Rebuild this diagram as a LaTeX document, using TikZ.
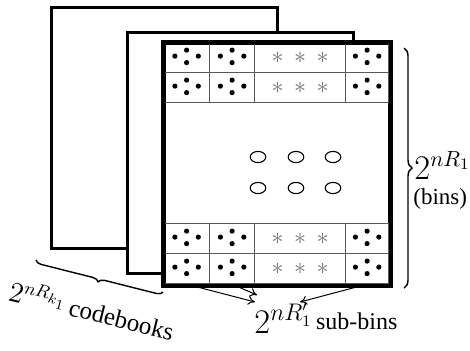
\documentclass[tikz,border=0pt]{standalone}
\usepackage{fontspec}
\setmainfont{Liberation Serif}
\newfontfamily\labelfont{Liberation Serif}
\usetikzlibrary{decorations.pathreplacing,arrows.meta}

\begin{document}
\begin{tikzpicture}[x=0.5pt,y=-0.5pt,
  sheet/.style={draw,line width=1.6pt,fill=white,inner sep=0pt,anchor=north west,
    minimum width=113pt,minimum height=120.5pt},
  cell/.style={draw=black!65,line width=0.6pt,inner sep=0pt,anchor=north west,
    minimum height=15pt},
  starmark/.style={text=black!55,inner sep=0pt,font=\fontsize{12}{14}\selectfont},
  bag/.style={line width=0.55pt},
  pointer/.style={line width=0.5pt,-{To[length=3.5pt,width=4.5pt]}},
  curly/.style={line width=0.7pt,decorate,decoration={brace,amplitude=#1}},
  lbl/.style={anchor=base west,inner sep=0pt},
  dots/.pic={
    \foreach \p in {(-11.7,-1.5),(11.7,-1.5),(0,-7.5),(0,5)}
      \fill \p circle (1.3pt);
  }]
\useasboundingbox (0,0) rectangle (470,350);

% three stacked codebook sheets
\node[sheet] (back) at (50,6) {};
\node[sheet] (mid) at (126,31) {};
\node[sheet,minimum width=112.5pt] (front) at (163,42) {};

% sub-bin rows: two at the top, two at the bottom
\foreach \r/\y in {1/42,2/72,3/223,4/253} {
  \node[cell,minimum width=23pt] (r\r a) at (163,\y) {};
  \node[cell,minimum width=22.5pt] (r\r b) at (209,\y) {};
  \node[cell,minimum width=45.5pt] (r\r c) at (254,\y) {};
  \node[cell,minimum width=21.5pt] (r\r d) at (345,\y) {};
  \pic at (r\r a) {dots};
  \pic at (r\r b) {dots};
  \pic at (r\r d) {dots};
  \foreach \dx in {-22.5,0,22.5}
    \node[starmark] at ([shift={(\dx,0)}]r\r c.center) {$\ast$};
}
\draw[line width=2pt] (front.north west) rectangle (front.south east);

% bins in the middle of the sheet
\foreach \cx in {258,296,333}
  \foreach \cy in {157,188}
    \draw[bag] (\cx,\cy) ellipse [x radius=3.9pt, y radius=2.8pt];

% brace over all bins
\coordinate (bt) at (404,48);
\coordinate (bb) at (404,288);
\draw[curly=4pt] (bt) -- (bb);
\node[lbl] (binsexp) at (414,179) {\fontsize{16}{18}\selectfont $2^{nR_1}$};
\node[lbl] (binsword) at (413,204) {\labelfont\fontsize{11.5}{13}\selectfont (bins)};

% brace under the stack of codebooks
\coordinate (cr) at (163,292);
\coordinate (cl) at (36,260);
\draw[curly=3pt] (cr) -- (cl);
\node[lbl,rotate=-14] (books) at (7,300)
  {{\fontsize{13.5}{15}\selectfont $2^{nR_{k_1}}$}\,{\labelfont\fontsize{12.5}{14}\selectfont codebooks}};

% sub-bins label and its pointers
\node[lbl] (subbins) at (254,333)
  {{\fontsize{17}{20}\selectfont $2^{nR'_1}$}\,\raisebox{2pt}{\labelfont\fontsize{12}{14}\selectfont sub-bins}};
\coordinate (e1) at (255,302);
\coordinate (e2) at (257,295);
\coordinate (e3) at (300,302);
\draw[pointer] (r4a.south) -- (e1);
\draw[pointer] (r4b.south) -- (e2);
\draw[pointer] (r4d.south) -- (e3);
\end{tikzpicture}
\end{document}
